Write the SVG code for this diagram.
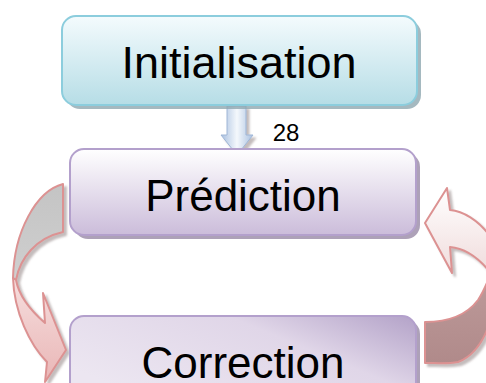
<svg xmlns="http://www.w3.org/2000/svg" width="486" height="383" viewBox="0 0 486 383">
<defs>
<style>
.lbl{font-family:"Liberation Sans",Arial,sans-serif;fill:#000;text-anchor:middle}
.rib{stroke:#dc9292;stroke-width:2;stroke-linejoin:round}
</style>
<linearGradient id="gInit" x1="0" y1="0" x2="0" y2="1">
<stop offset="0" stop-color="#f4fbfd"/><stop offset="1" stop-color="#b6dde6"/>
</linearGradient>
<linearGradient id="gPred" x1="0" y1="0" x2="0" y2="1">
<stop offset="0" stop-color="#ffffff"/><stop offset="1" stop-color="#cbbcda"/>
</linearGradient>
<linearGradient id="gCorr" x1="0" y1="0.6" x2="1" y2="0">
<stop offset="0" stop-color="#ece6f1"/><stop offset="0.6" stop-color="#e0d6e8"/><stop offset="1" stop-color="#b3a2c8"/>
</linearGradient>
<linearGradient id="gDown" x1="0" y1="0" x2="1" y2="0">
<stop offset="0" stop-color="#a9c0e0"/><stop offset="0.5" stop-color="#f4f8fc"/><stop offset="1" stop-color="#a9c0e0"/>
</linearGradient>
<linearGradient id="gGray" x1="0" y1="0" x2="0" y2="1">
<stop offset="0" stop-color="#c4c4c4"/><stop offset="1" stop-color="#cfcfcf"/>
</linearGradient>
<linearGradient id="gPink" x1="0" y1="0" x2="0" y2="1">
<stop offset="0" stop-color="#f6dede"/><stop offset="1" stop-color="#e9b6b6"/>
</linearGradient>
<linearGradient id="gLight" x1="0" y1="0" x2="0" y2="1">
<stop offset="0" stop-color="#ffffff"/><stop offset="1" stop-color="#f0dcdc"/>
</linearGradient>
<linearGradient id="gDark" x1="0" y1="0" x2="0" y2="1">
<stop offset="0" stop-color="#bd9a9a"/><stop offset="1" stop-color="#b08a8a"/>
</linearGradient>
<filter id="sh" x="-20%" y="-20%" width="140%" height="140%">
<feDropShadow dx="3" dy="3" stdDeviation="1.2" flood-color="#7a6a6a" flood-opacity="0.45"/>
</filter>
</defs>

<g id="connectors">
<g id="arrow-init-pred" filter="url(#sh)">
<path d="M227,106 L246,106 L246,135 L253,135 L237,155 L221,135 L227,135 Z" fill="url(#gDown)" stroke="#9fb6d6" stroke-width="1"/>
</g>
<text class="lbl" x="286" y="141" font-size="24">28</text>
<g id="arrow-pred-corr" filter="url(#sh)">
<path class="rib" d="M63,184 C36,191 14,232 13,278 L16,280 C20,258 36,238 63,232 Z" fill="url(#gGray)"/>
<path class="rib" d="M13,278 C14,312 30,345 47,362 L45,382 L66,350 L43,293 L45,323 C30,310 19,296 16,280 Z" fill="url(#gPink)"/>
</g>
<g id="arrow-corr-pred" filter="url(#sh)">
<path class="rib" d="M490,236 C478,220 463,211 450,210 L447,188 L425,223 L452,273 L450,247 C463,248 477,256 490,272" fill="url(#gLight)"/>
<path class="rib" d="M425,322 C447,322 466,316 478,300 C483,293 486,285 490,276 L490,322 C484,340 474,356 458,362 C448,364 436,363 425,363 Z" fill="url(#gDark)"/>
</g>
</g>

<g id="node-initialisation">
<rect x="66" y="20" width="355" height="89" rx="14" fill="#8fa8b0" opacity="0.8"/>
<rect x="62" y="16" width="355" height="89" rx="14" fill="url(#gInit)" stroke="#8ccddd" stroke-width="2"/>
<text class="lbl" x="239" y="78" font-size="45">Initialisation</text>
</g>

<g id="node-prediction">
<rect x="74" y="153" width="346" height="86" rx="14" fill="#9f90ab" opacity="0.85"/>
<rect x="70" y="149" width="346" height="86" rx="14" fill="url(#gPred)" stroke="#b3a0cc" stroke-width="2"/>
<text class="lbl" x="243" y="211" font-size="44">Prédiction</text>
</g>

<g id="node-correction">
<rect x="74" y="320" width="346" height="86" rx="14" fill="#9f90ab" opacity="0.85"/>
<rect x="70" y="316" width="346" height="86" rx="14" fill="url(#gCorr)" stroke="#b3a0cc" stroke-width="2"/>
<text class="lbl" x="243" y="378" font-size="44">Correction</text>
</g>
</svg>
